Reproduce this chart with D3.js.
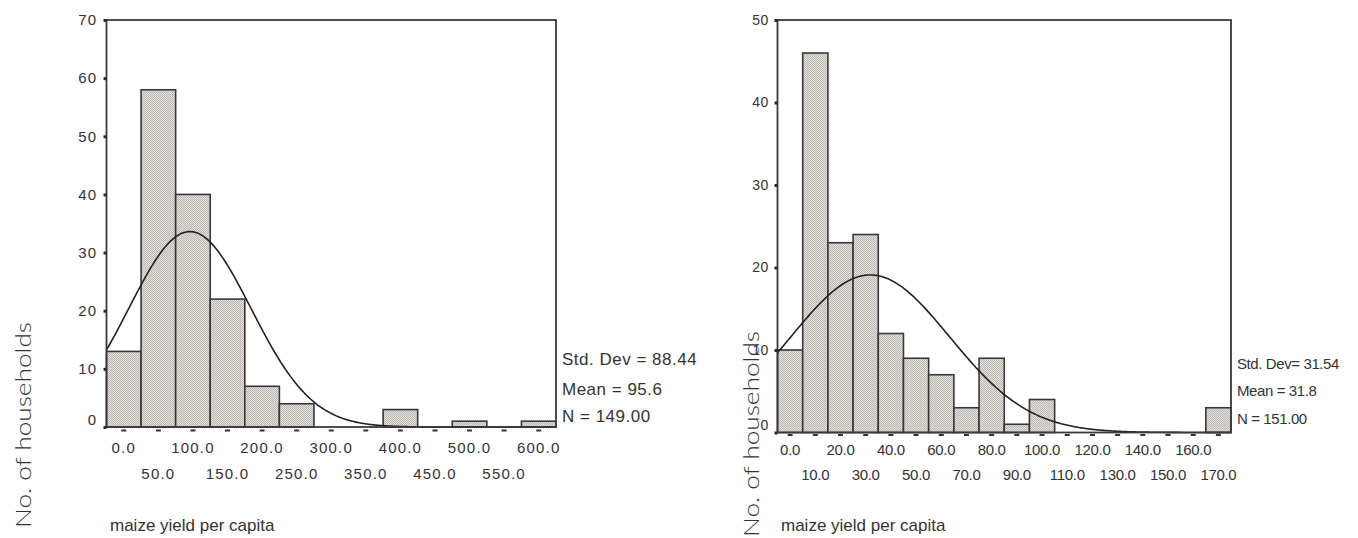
<!DOCTYPE html>
<html>
<head>
<meta charset="utf-8">
<script src="https://cdn.jsdelivr.net/npm/d3@7"></script>
<style>
  html, body { margin: 0; padding: 0; background: #fff; }
  svg { display: block; }
  text { font-family: "Liberation Sans", Arial, Helvetica, sans-serif; fill: #333; }
</style>
</head>
<body>
<svg id="chart" width="1358" height="538"></svg>
<script>
// ---------------- DATA ----------------
const leftBinCenters = [0, 50, 100, 150, 200, 250, 300, 350, 400, 450, 500, 550, 600];
const leftCounts     = [13, 58, 40, 22, 7, 4, 0, 0, 3, 0, 1, 0, 1];
const leftYTicks     = [0, 10, 20, 30, 40, 50, 60, 70];
const leftXRow1      = [0, 100, 200, 300, 400, 500, 600];
const leftXRow2      = [50, 150, 250, 350, 450, 550];
const leftStats      = { sd: 88.44, mean: 95.6, n: 149, binWidth: 50 };
const leftStatLabels = ["Std. Dev = 88.44", "Mean = 95.6", "N = 149.00"];

const rightBinCenters = [0, 10, 20, 30, 40, 50, 60, 70, 80, 90, 100, 110, 120, 130, 140, 150, 160, 170];
const rightCounts     = [10, 46, 23, 24, 12, 9, 7, 3, 9, 1, 4, 0, 0, 0, 0, 0, 0, 3];
const rightYTicks     = [0, 10, 20, 30, 40, 50];
const rightXRow1      = [0, 20, 40, 60, 80, 100, 120, 140, 160];
const rightXRow2      = [10, 30, 50, 70, 90, 110, 130, 150, 170];
const rightStats      = { sd: 31.54, mean: 31.8, n: 151, binWidth: 10 };
const rightStatLabels = ["Std. Dev= 31.54", "Mean = 31.8", "N = 151.00"];

const yTitle = "No. of households";
const xTitle = "maize yield per capita";

// ---------------- DRAW ----------------
const svg = d3.select("#chart");
const defs = svg.append("defs");
const pat = defs.append("pattern").attr("id", "hatch")
  .attr("width", 2).attr("height", 2).attr("patternUnits", "userSpaceOnUse");
pat.append("rect").attr("width", 2).attr("height", 2).attr("fill", "#e4e0dc");
pat.append("rect").attr("width", 1).attr("height", 1).attr("fill", "#bdb7b3");
pat.append("rect").attr("x", 1).attr("y", 1).attr("width", 1).attr("height", 1).attr("fill", "#bdb7b3");

function drawPanel(cfg) {
  const g = svg.append("g");
  const half = cfg.binWidth / 2;
  const x = d3.scaleLinear()
    .domain([cfg.centers[0] - half, cfg.centers[cfg.centers.length - 1] + half])
    .range([cfg.x0, cfg.x1]);
  const y = d3.scaleLinear()
    .domain([0, cfg.yTicks[cfg.yTicks.length - 1]])
    .range([cfg.y1, cfg.y0]);

  // bars
  g.selectAll("rect.bar").data(cfg.centers.map((c, i) => ({ c, v: cfg.counts[i] })).filter(d => d.v > 0))
    .join("rect").attr("class", "bar")
    .attr("x", d => x(d.c - half))
    .attr("width", d => x(d.c + half) - x(d.c - half))
    .attr("y", d => y(d.v))
    .attr("height", d => y(0) - y(d.v))
    .attr("fill", "url(#hatch)")
    .attr("stroke", "#383838")
    .attr("stroke-width", 1.6);

  // fitted normal curve (from the stated mean / sd / N)
  const st = cfg.stats;
  const dom = x.domain();
  const pts = d3.range(dom[0], dom[1] + 1e-9, (dom[1] - dom[0]) / 400).map(v => {
    const z = (v - st.mean) / st.sd;
    return [v, st.n * st.binWidth / (st.sd * Math.sqrt(2 * Math.PI)) * Math.exp(-0.5 * z * z)];
  });
  g.append("path").datum(pts)
    .attr("d", d3.line().x(d => x(d[0])).y(d => y(d[1])))
    .attr("fill", "none").attr("stroke", "#222").attr("stroke-width", 1.6);

  // frame
  g.append("rect")
    .attr("x", cfg.x0).attr("y", cfg.y0)
    .attr("width", cfg.x1 - cfg.x0).attr("height", cfg.y1 - cfg.y0)
    .attr("fill", "none").attr("stroke", "#3a3a3a").attr("stroke-width", 1.8);

  // y axis
  const yAxis = d3.axisLeft(y).tickValues(cfg.yTicks).tickSize(3).tickPadding(cfg.yPad).tickFormat(d3.format("d"));
  const ya = g.append("g").attr("transform", `translate(${cfg.x0},0)`).call(yAxis);
  ya.select(".domain").remove();
  ya.selectAll(".tick line").attr("stroke", "#2a2a2a").attr("stroke-width", 3);
  ya.selectAll(".tick text")
    .style("font-size", cfg.yFont + "px").style("letter-spacing", cfg.yLS + "px")
    .attr("fill", "#333")
    .attr("dy", d => d === 0 ? "-0.2em" : "0.32em");

  // x dashes at bin centers
  g.selectAll("rect.dash").data(cfg.centers).join("rect").attr("class", "dash")
    .attr("x", d => x(d) - 2.5).attr("width", 5)
    .attr("y", cfg.y1 + cfg.dashOff).attr("height", 2)
    .attr("fill", "#333");

  // x labels in two staggered rows
  const fmt = d3.format(".1f");
  [[cfg.row1, cfg.row1Y], [cfg.row2, cfg.row2Y]].forEach(([vals, yy]) => {
    g.selectAll(null).data(vals).join("text")
      .attr("x", d => x(d)).attr("y", yy)
      .attr("text-anchor", "middle")
      .style("font-size", cfg.xFont + "px").style("letter-spacing", cfg.xLS + "px")
      .text(d => fmt(d));
  });

  // stats
  cfg.statLabels.forEach((s, i) => {
    g.append("text").attr("x", cfg.statX).attr("y", cfg.statY[i])
      .style("font-size", cfg.statFont + "px")
      .style("letter-spacing", cfg.statLS + "px")
      .text(s);
  });

  // x title
  g.append("text").attr("x", cfg.xTitleX).attr("y", cfg.xTitleY)
    .style("font-size", cfg.xTitleFont + "px").text(xTitle);

  // y title
  g.append("text")
    .attr("transform", `translate(${cfg.yTitleX},${cfg.yTitleY}) rotate(-90)`)
    .attr("text-anchor", "middle")
    .style("font-family", "Lato, 'Open Sans', sans-serif")
    .style("font-weight", 300)
    .style("font-size", "22px")
    .attr("fill", "#3a3a3a")
    .attr("textLength", 206).attr("lengthAdjust", "spacingAndGlyphs")
    .text(yTitle);
}

drawPanel({
  centers: leftBinCenters, counts: leftCounts, binWidth: leftStats.binWidth, stats: leftStats,
  yTicks: leftYTicks, row1: leftXRow1, row2: leftXRow2, statLabels: leftStatLabels,
  x0: 106.5, x1: 556, y0: 20, y1: 427,
  yPad: 6, yFont: 15, yLS: 1.3, xFont: 15, xLS: 1.2, dashOff: 2.5,
  row1Y: 453, row2Y: 479,
  statX: 562, statY: [365, 395, 422], statFont: 17, statLS: 0.5,
  xTitleX: 110, xTitleY: 531, xTitleFont: 17,
  yTitleX: 31, yTitleY: 425
});

drawPanel({
  centers: rightBinCenters, counts: rightCounts, binWidth: rightStats.binWidth, stats: rightStats,
  yTicks: rightYTicks, row1: rightXRow1, row2: rightXRow2, statLabels: rightStatLabels,
  x0: 777.5, x1: 1231, y0: 20, y1: 432.5,
  yPad: 6, yFont: 14, yLS: 0.3, xFont: 15, xLS: -0.3, dashOff: 1.5,
  row1Y: 455, row2Y: 480,
  statX: 1237, statY: [369, 396, 424], statFont: 15, statLS: -0.4,
  xTitleX: 781, xTitleY: 531, xTitleFont: 17,
  yTitleX: 759, yTitleY: 434
});
</script>
</body>
</html>
